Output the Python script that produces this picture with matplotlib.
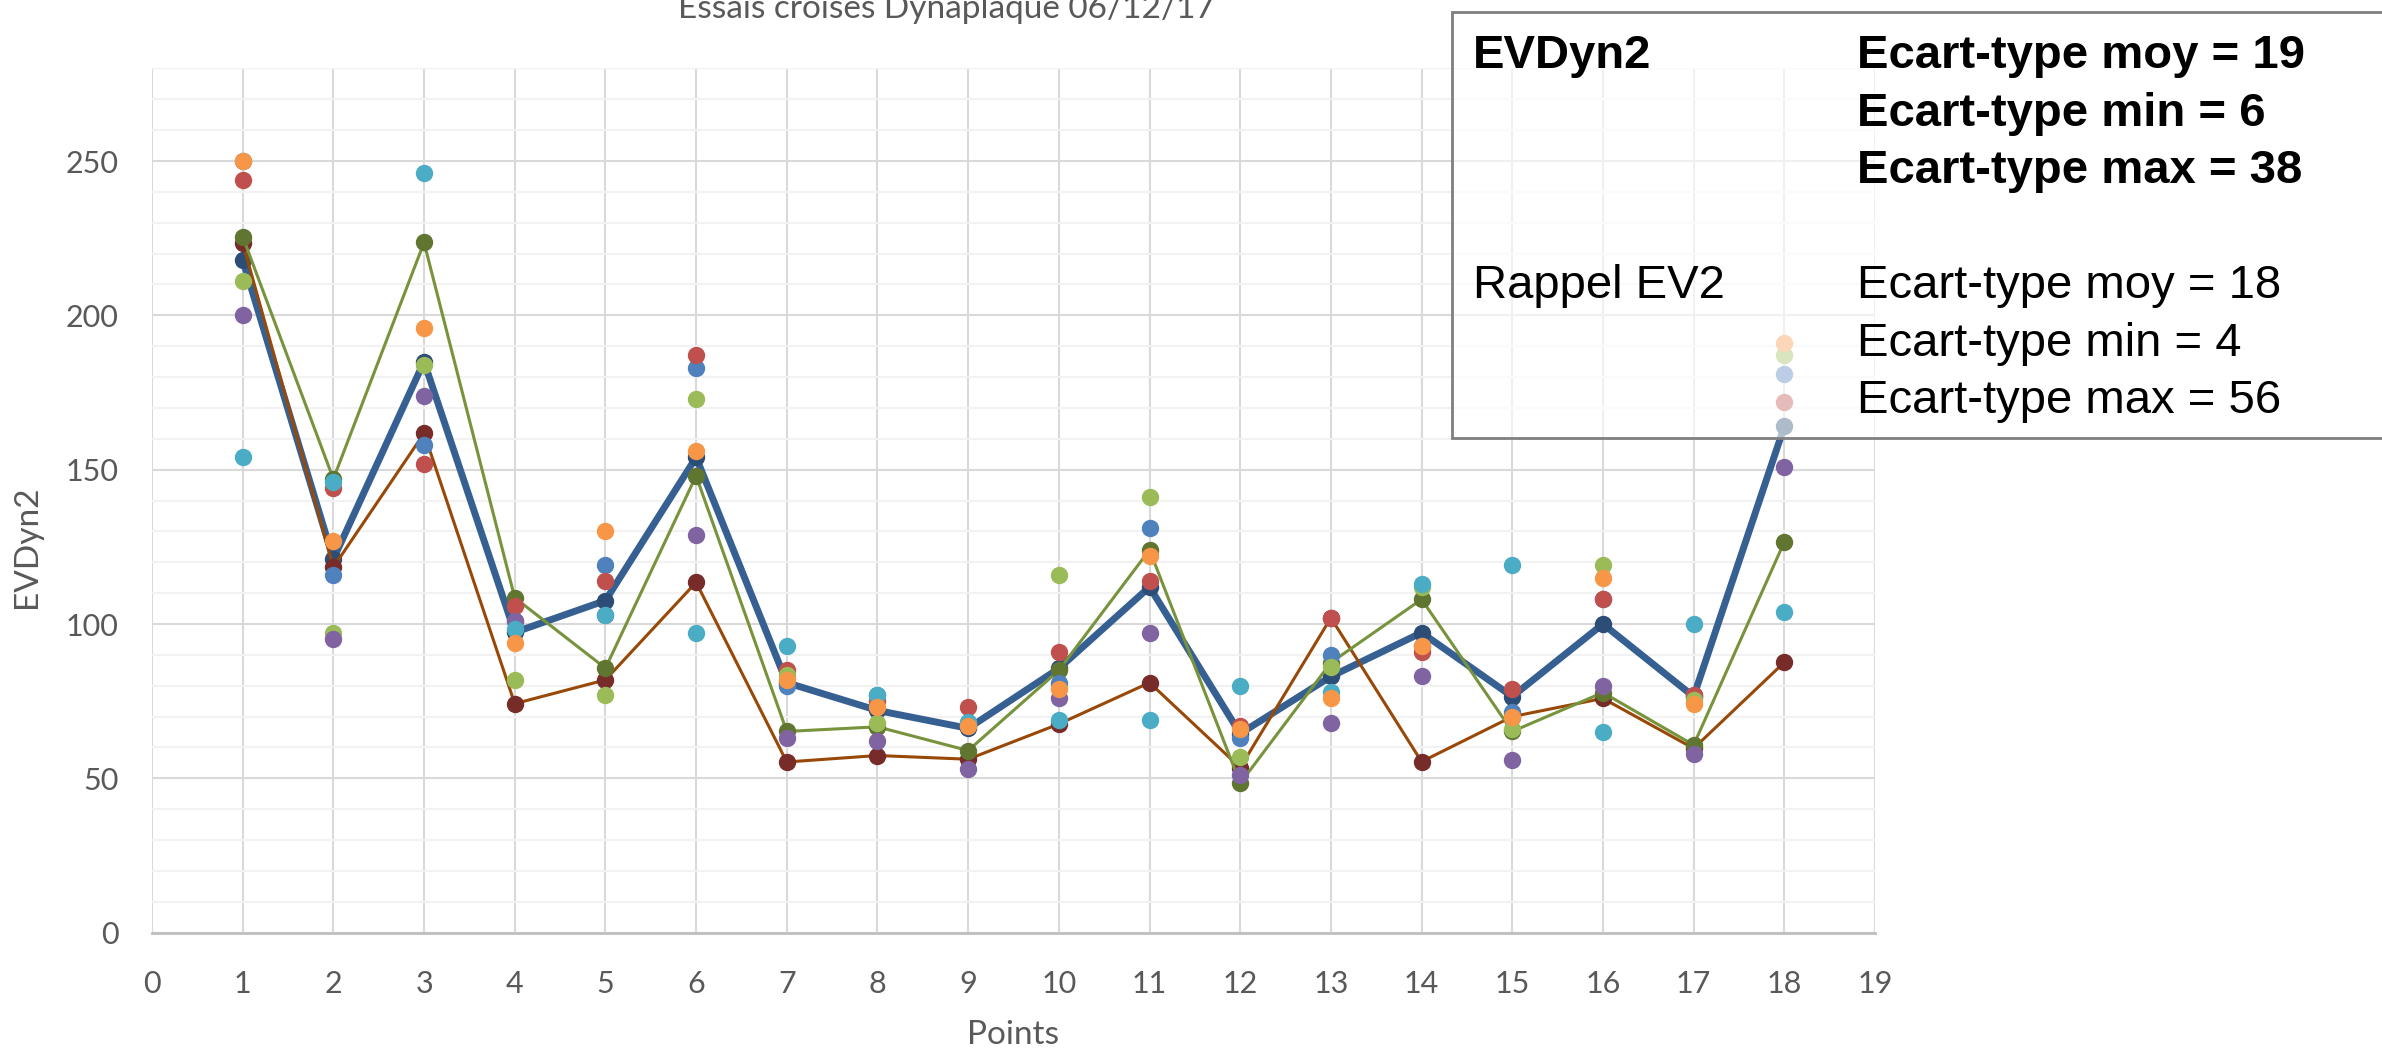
import matplotlib
matplotlib.use('Agg')
import matplotlib.pyplot as plt
from matplotlib.patches import Rectangle
from matplotlib.ticker import MultipleLocator

# ─── données ───
points = list(range(1, 19))

moyenne = [218, 121, 185, 97.3, 107.6, 154, 81, 72, 66.2, 85.6, 112, 64.5, 83, 97.2, 76.5, 100, 76.5, 164]
serie_verte = [225.5, 147, 223.6, 108.5, 85.7, 148, 65.2, 66.7, 59, 85, 124, 48.4, 87.5, 108, 65.2, 77.8, 60.8, 126.6]
serie_brune = [223.5, 118.4, 161.8, 74.2, 81.9, 113.5, 55.3, 57.4, 56.2, 67.6, 81, 53.5, 102, 55.4, 70, 75.9, 59.7, 87.6]

op_bleu = [250, 116, 158, 101, 119, 183, 80, 77, 67, 81, 131, 63, 90, 93, 71.6, 108, 77, 181]
op_rouge = [244, 144, 152, 106, 114, 187, 85, 75, 73, 91, 114, 67, 102, 91, 79, 108, 77, 172]
op_vert = [211, 97, 184, 82, 77, 173, 83.5, 68, 68, 116, 141, 57, 86, 112, 66, 119, 75.4, 187]
op_violet = [200, 95, 174, 101, 103, 129, 63, 62, 53, 76, 97, 51, 68, 83, 56, 80, 58, 151]
op_cyan = [154, 146, 246, 98.3, 103, 97, 93, 77, 68.4, 69, 69, 80, 78, 113, 119, 65, 100, 104]
op_orange = [250, 127, 196, 94, 130, 156, 82, 73, 67, 79, 122, 66, 76, 93, 70, 115, 74, 191]

x_ticks = list(range(0, 20))
y_ticks = [0, 50, 100, 150, 200, 250]

lignes_gauche = ["EVDyn2", "Rappel EV2"]
lignes_droite = ["Ecart-type moy = 19", "Ecart-type min = 6", "Ecart-type max = 38",
                 "Ecart-type moy = 18", "Ecart-type min = 4", "Ecart-type max = 56"]

W, H = 2382, 1052
fig = plt.figure(figsize=(W / 100, H / 100), dpi=100)
ax = fig.add_axes([152 / W, 1 - 932.7 / H, (1875 - 152) / W, (932.7 - 68.4) / H])

ms = 11.5
ax.plot(points, moyenne, color='#376092', lw=5, marker='o', ms=ms,
        mfc='#2C4D75', mec='#2C4D75', zorder=3)
ax.plot(points, serie_brune, color='#984807', lw=2.2, marker='o', ms=ms,
        mfc='#772C2A', mec='#772C2A', zorder=4)
ax.plot(points, serie_verte, color='#77933C', lw=2.2, marker='o', ms=ms,
        mfc='#5F7530', mec='#5F7530', zorder=5)

operateurs = [
    (op_bleu, '#4F81BD'),
    (op_rouge, '#C0504D'),
    (op_vert, '#9BBB59'),
    (op_violet, '#8064A2'),
    (op_cyan, '#4BACC6'),
    (op_orange, '#F79646'),
]
for i, (vals, col) in enumerate(operateurs):
    ax.plot(points, vals, linestyle='none', marker='o', ms=ms,
            mfc=col, mec=col, zorder=6 + i)

ax.set_xlim(0, 19)
ax.set_ylim(0, 280)
ax.set_xticks(x_ticks)
ax.set_yticks(y_ticks)
ax.yaxis.set_minor_locator(MultipleLocator(10))
ax.set_axisbelow(True)
ax.grid(which='major', axis='both', color='#D9D9D9', lw=1.5)
ax.grid(which='minor', axis='y', color='#F2F2F2', lw=1.5)

for s in ['top', 'right', 'left']:
    ax.spines[s].set_visible(False)
ax.spines['bottom'].set_color('#BFBFBF')
ax.spines['bottom'].set_linewidth(2)

fam = ['Lato', 'DejaVu Sans']
ax.tick_params(which='both', length=0, labelcolor='#595959', labelsize=22)
ax.tick_params(axis='x', pad=27)
ax.tick_params(axis='y', pad=24)
for lab in ax.get_xticklabels() + ax.get_yticklabels():
    lab.set_family(fam)

ax.set_xlabel("Points", fontsize=24, color='#595959', family=fam, va='center')
ax.xaxis.set_label_coords(0.5, -(1035 - 932.7) / (932.7 - 68.4))
ax.set_ylabel("EVDyn2", fontsize=24, color='#595959', family=fam, va='center')
ax.yaxis.set_label_coords((27 - 152) / (1875 - 152), (932.7 - 547) / (932.7 - 68.4))

# titre coupé en haut, comme sur l'original
fig.text(946 / W, 1 - 18 / H, "Essais croises Dynaplaque 06/12/17", ha='center', va='baseline',
         fontsize=24, color='#595959', family=fam)

# ─── encadré écart-type ───
boite = Rectangle((1452 / W, 1 - 438 / H), (W + 20 - 1452) / W, (438 - 12) / H,
                  transform=fig.transFigure, facecolor=(1, 1, 1, 0.62),
                  edgecolor='#7F7F7F', lw=2, zorder=20)
fig.add_artist(boite)

police = ['Liberation Sans', 'DejaVu Sans']
bases = [68, 126, 183, 298, 356, 413]
fig.text(1473 / W, 1 - bases[0] / H, lignes_gauche[0], fontsize=34, fontweight='bold',
         family=police, va='baseline', zorder=21)
fig.text(1473 / W, 1 - bases[3] / H, lignes_gauche[1], fontsize=34,
         family=police, va='baseline', zorder=21)
for i, (txt, yb) in enumerate(zip(lignes_droite, bases)):
    fig.text(1857 / W, 1 - yb / H, txt, fontsize=34, fontweight='bold' if i < 3 else 'normal',
             family=police, va='baseline', zorder=21)

fig.savefig('out.png', dpi=100)
